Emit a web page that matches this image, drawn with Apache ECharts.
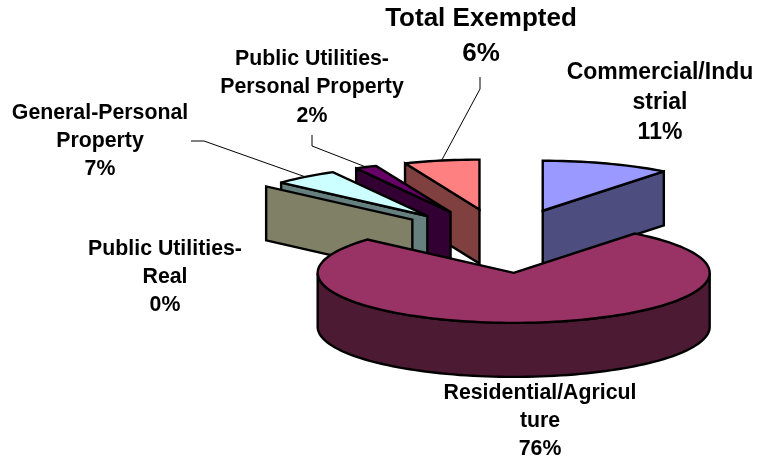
<!DOCTYPE html>
<html>
<head>
<meta charset="utf-8">
<style>html,body{margin:0;padding:0;background:#fff}#main{width:759px;height:462px}</style>
<script src="https://cdn.jsdelivr.net/npm/echarts@6/dist/echarts.min.js"></script>
</head>
<body>
<div id="main"></div>
<script>
// Slices clockwise from 12 o'clock
const sliceNames = ['Commercial/Industrial', 'Residential/Agriculture', 'Public Utilities-Real', 'General-Personal Property', 'Public Utilities-Personal Property', 'Total Exempted'];
// Arc shares (percent of the circle)
const sliceShares = [10.6, 76.0, 0, 5.4, 1.8, 6.2];
// Printed percentages
const printedPercents = ['11%', '76%', '0%', '7%', '2%', '6%'];
// Printed label lines (wrapped as in the original)
const labelLines = [
  ['Commercial/Indu', 'strial'],
  ['Residential/Agricul', 'ture'],
  ['Public Utilities-', 'Real'],
  ['General-Personal', 'Property'],
  ['Public Utilities-', 'Personal Property'],
  ['Total Exempted']
];
const topColors = ['#9999FF', '#993366', '#FFFFCC', '#CCFFFF', '#660066', '#FF8080'];
const sideColors = ['#4D4D80', '#4D1A33', '#808066', '#668080', '#330033', '#804040'];

// Layout (pixels), not data
const PIE = { cx: 503, cy: 241, rx: 196, ry: 50, depth: 54, ex: 0.62, ey: 0.64 };
const LABELS = [
  { x: 660, y: 73, size: 23, lh: 30 },
  { x: 540, y: 393, size: 21.3, lh: 28 },
  { x: 165, y: 249, size: 21.3, lh: 28 },
  { x: 100, y: 113, size: 21.3, lh: 28 },
  { x: 312, y: 59, size: 21.3, lh: 28.5 },
  { x: 481, y: 19, size: 26, lh: 35 }
];
const LEADERS = {
  3: [[191, 141], [204, 141]],
  4: [[312, 135], [312, 146]],
  5: [[480, 77], [480, 89]]
};

const total = sliceShares.reduce((a, b) => a + b, 0);
const rad = d => d * Math.PI / 180;

function renderSlice(params, api) {
  const i = params.dataIndex;
  const share = api.value(0);
  let before = 0;
  for (let k = 0; k < i; k++) before += sliceShares[k];
  const a0 = before / total * 360;
  const a1 = a0 + share / total * 360;
  const mid = (a0 + a1) / 2;
  const ox = PIE.cx + PIE.ex * PIE.rx * Math.sin(rad(mid));
  const oy = PIE.cy - PIE.ey * PIE.ry * Math.cos(rad(mid));
  const pt = (deg, dz) => [ox + PIE.rx * Math.sin(rad(deg)), oy - PIE.ry * Math.cos(rad(deg)) + (dz || 0)];
  const arc = (from, to, dz) => {
    const n = Math.max(1, Math.ceil(Math.abs(to - from) / 2));
    const out = [];
    for (let s = 0; s <= n; s++) out.push(pt(from + (to - from) * s / n, dz));
    return out;
  };
  const z2 = Math.round((1 - Math.cos(rad(mid))) * 100);
  const line = { stroke: '#000', lineWidth: 2.4, lineJoin: 'miter', miterLimit: 3 };
  const children = [];
  const sweep = a1 - a0;
  if (sweep < 180) {
    const edge = mid < 180 ? a1 : a0;
    const p = pt(edge);
    children.push({
      type: 'polygon', z2,
      shape: { points: [[ox, oy], p, [p[0], p[1] + PIE.depth], [ox, oy + PIE.depth]] },
      style: Object.assign({ fill: sideColors[i] }, line)
    });
  } else {
    const f = Math.max(a0, 90), t = Math.min(a1, 270);
    children.push({
      type: 'polygon', z2,
      shape: { points: arc(f, t, 0).concat(arc(t, f, PIE.depth)) },
      style: Object.assign({ fill: sideColors[i] }, line)
    });
  }
  if (sweep > 0) {
    children.push({
      type: 'polygon', z2: z2 + 1,
      shape: { points: [[ox, oy]].concat(arc(a0, a1, 0)) },
      style: Object.assign({ fill: topColors[i] }, line)
    });
  }
  if (LEADERS[i]) {
    children.push({
      type: 'polyline', z2: 0,
      shape: { points: LEADERS[i].concat([pt(mid)]) },
      style: { stroke: '#000', lineWidth: 1, fill: null }
    });
  }
  const L = LABELS[i];
  labelLines[i].concat([printedPercents[i]]).forEach((txt, k) => {
    children.push({
      type: 'text', z2: 300,
      style: {
        x: L.x, y: L.y + k * L.lh, text: txt, fill: '#000',
        font: 'bold ' + L.size + 'px "Liberation Sans", Arial, sans-serif',
        align: 'center', verticalAlign: 'middle'
      }
    });
  });
  return { type: 'group', children };
}

const chart = echarts.init(document.getElementById('main'), null, { renderer: 'canvas' });
chart.setOption({
  animation: false,
  backgroundColor: '#fff',
  series: [{
    type: 'custom',
    coordinateSystem: 'none',
    silent: true,
    renderItem: renderSlice,
    data: sliceNames.map((name, i) => ({ name, value: [sliceShares[i]] }))
  }]
});
</script>
</body>
</html>
